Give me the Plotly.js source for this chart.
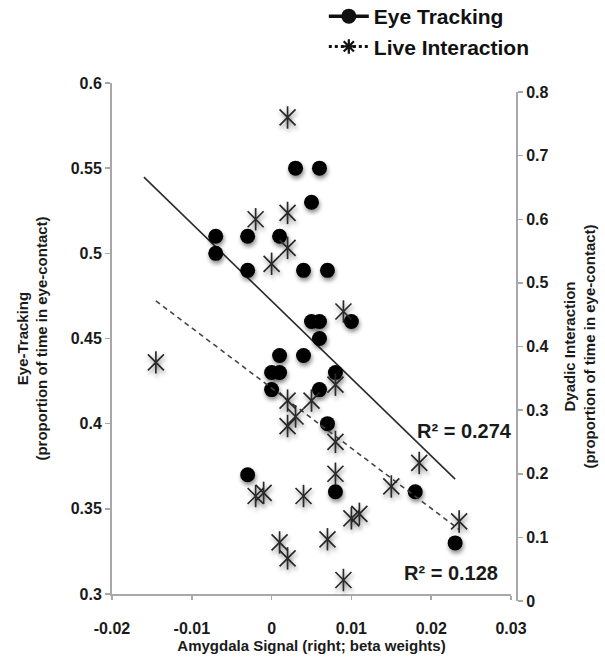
<!DOCTYPE html>
<html><head><meta charset="utf-8">
<script src="https://cdn.plot.ly/plotly-3.0.1.min.js"></script>
<style>html,body{margin:0;padding:0;background:#fff}#chart{width:605px;height:659px}</style>
</head><body><div id="chart"></div>
<script>
// Eye tracking (left axis)
const eyeX = [-0.007,-0.007,-0.003,0.001,-0.003,0.004,0.007,0.003,0.006,0.005,0.005,0.006,0.010,0.006,0.001,0.004,0.000,0.001,0.008,0.000,0.006,0.007,-0.003,0.008,0.018,0.023];
const eyeY = [0.51,0.50,0.51,0.51,0.49,0.49,0.49,0.55,0.55,0.53,0.46,0.46,0.46,0.45,0.44,0.44,0.43,0.43,0.43,0.42,0.42,0.40,0.37,0.36,0.36,0.33];
// Live interaction (right axis)
const liveX = [0.002,-0.002,0.002,0.002,0.000,0.009,-0.0145,0.008,0.002,0.005,0.003,0.002,0.008,0.008,0.015,-0.002,-0.001,0.004,0.011,0.010,0.001,0.007,0.002,0.009,0.0185,0.0235];
const liveY = [0.76,0.60,0.61,0.555,0.53,0.455,0.375,0.34,0.315,0.315,0.29,0.275,0.25,0.20,0.18,0.165,0.17,0.165,0.137,0.13,0.092,0.097,0.067,0.033,0.217,0.125];

const xTickVals = [-0.02,-0.01,0,0.01,0.02,0.03];
const xTickText = ['-0.02','-0.01','0','0.01','0.02','0.03'];
const leftTickVals = [0.3,0.35,0.4,0.45,0.5,0.55,0.6];
const rightTickVals = [0,0.1,0.2,0.3,0.4,0.5,0.6,0.7,0.8];
const r2Labels = ['R² = 0.274','R² = 0.128'];
const eyeTrendStart = -0.016;

function fit(xs, ys){
  const n = xs.length;
  const mx = xs.reduce((a,b)=>a+b,0)/n, my = ys.reduce((a,b)=>a+b,0)/n;
  let sxy=0, sxx=0;
  for(let i=0;i<n;i++){sxy+=(xs[i]-mx)*(ys[i]-my); sxx+=(xs[i]-mx)**2;}
  const m = sxy/sxx; return {m:m, b:my-m*mx};
}
const fe = fit(eyeX, eyeY), fl = fit(liveX, liveY);
const eyeTX = [eyeTrendStart, Math.max(...eyeX)];
const liveTX = [Math.min(...liveX), Math.max(...liveX)];

const FF = 'Liberation Sans, Arial, Helvetica, sans-serif';
const INK = '#1a1a1a';
const STAR = '#2a2a2a';

const traces = [
  {x: eyeTX, y: eyeTX.map(v=>fe.m*v+fe.b), mode:'lines', line:{color:'#2a2a2a', width:1.6}, showlegend:false, hoverinfo:'skip'},
  {x: liveTX, y: liveTX.map(v=>fl.m*v+fl.b), yaxis:'y2', mode:'lines', line:{color:'#444', width:1.6, dash:'5px,4px'}, showlegend:false, hoverinfo:'skip'},
  {x: liveX, y: liveY, yaxis:'y2', mode:'markers', marker:{symbol:'x-thin-open', size:16, color:STAR, line:{color:STAR, width:1.7}}, showlegend:false},
  {x: liveX, y: liveY, yaxis:'y2', mode:'markers', marker:{symbol:'line-ns-open', size:16, color:STAR, line:{color:STAR, width:1.7}}, showlegend:false},
  {x: eyeX, y: eyeY, mode:'markers', marker:{symbol:'circle', size:15, color:'#000'}, showlegend:false},
  {x:[null], y:[null], mode:'lines+markers', name:'Eye Tracking', line:{color:'#111', width:3.5}, marker:{symbol:'circle', size:15, color:'#111'}},
  {x:[null], y:[null], mode:'lines+markers', name:'Live Interaction', line:{color:'#111', width:3, dash:'dot'}, marker:{symbol:'asterisk-open', size:12, color:'#111', line:{color:'#111', width:2.2}}}
];

const tickFont = {family:FF, size:16, color:INK, weight:'bold'};
const titleFont = {family:FF, size:15, color:INK, weight:'bold'};

const layout = {
  width:605, height:659,
  margin:{l:112, r:88, t:83, b:58, autoexpand:false},
  paper_bgcolor:'#fff', plot_bgcolor:'rgba(0,0,0,0)',
  showlegend:true,
  legend:{x:0.523, y:1.168, xanchor:'left', yanchor:'top', font:{family:FF, size:21, color:'#111', weight:'bold'}, bgcolor:'rgba(0,0,0,0)', tracegroupgap:0, itemwidth:40},
  xaxis:{domain:[0, 0.9852], range:[-0.02,0.03], tickvals:xTickVals, ticktext:xTickText, showgrid:false, zeroline:false,
    showline:true, linecolor:'#a8a8a8', linewidth:2, ticks:'outside', ticklen:4, tickcolor:'#a8a8a8', tickwidth:1.5,
    tickfont:tickFont, anchor:'y', ticklabelstandoff:15, automargin:false,
    title:{text:'Amygdala Signal (right; beta weights)', font:titleFont, standoff:0}},
  yaxis:{domain:[0.0135,1], range:[0.3,0.6], tickvals:leftTickVals, showgrid:false, zeroline:false,
    showline:true, linecolor:'#a8a8a8', linewidth:2, ticks:'outside', ticklen:5, tickcolor:'#a8a8a8', tickwidth:1.5,
    tickfont:tickFont, automargin:false,
    title:{text:'Eye-Tracking<br>(proportion of time in eye-contact)', font:titleFont, standoff:19}},
  yaxis2:{domain:[0,0.9826], range:[0,0.8], tickvals:rightTickVals, side:'right', anchor:'free', position:1, showgrid:false, zeroline:false,
    showline:true, linecolor:'#a8a8a8', linewidth:2, ticks:'outside', ticklen:5, tickcolor:'#a8a8a8', tickwidth:1.5,
    tickfont:tickFont, automargin:false,
    title:{text:'Dyadic Interaction<br>(proportion of time in eye-contact)', font:titleFont, standoff:16}},
  annotations:[
    {xref:'paper', yref:'paper', x:0.8716, y:0.328, xanchor:'center', yanchor:'middle', text:r2Labels[0], showarrow:false, font:{family:FF, size:20, color:INK, weight:'bold'}},
    {xref:'paper', yref:'paper', x:0.837, y:0.054, xanchor:'center', yanchor:'middle', text:r2Labels[1], showarrow:false, font:{family:FF, size:20, color:INK, weight:'bold'}}
  ]
};

Plotly.newPlot('chart', traces, layout, {staticPlot:true}).then(function(gd){
  gd.querySelectorAll('.cartesianlayer .scatterlayer path.point').forEach(function(p){
    p.style.filter = 'drop-shadow(1px 3px 2px rgba(0,0,0,0.45))';
  });
});
</script>
</body></html>
